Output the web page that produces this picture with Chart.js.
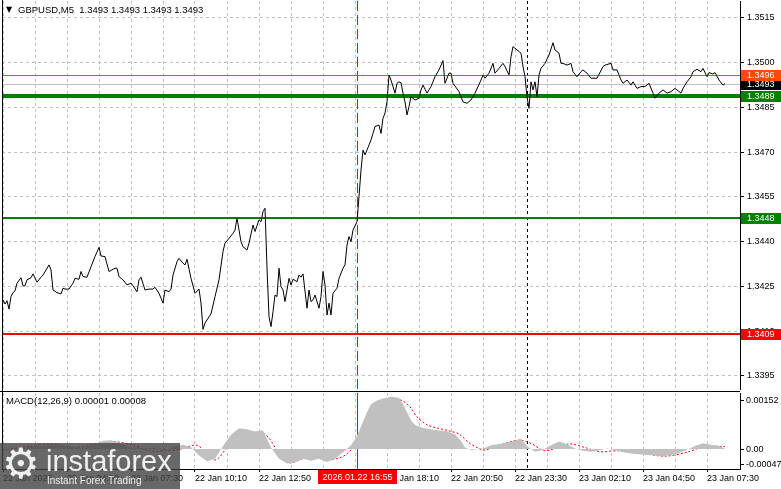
<!DOCTYPE html>
<html>
<head>
<meta charset="utf-8">
<script src="https://cdn.jsdelivr.net/npm/chart.js@4.4.1/dist/chart.umd.min.js"></script>
<style>
  html, body { margin: 0; padding: 0; background: #fff; }
  #wrap { position: relative; width: 781px; height: 489px; overflow: hidden; }
  #priceChart { position: absolute; left: 0; top: 0; }
  #macdChart { position: absolute; left: 0; top: 390px; }
  #logo { position: absolute; left: 0; top: 443px; width: 180px; height: 46px;
          background: rgba(66, 66, 66, 0.8); color: rgba(255, 255, 255, 0.9);
          font-family: 'Liberation Sans', Arial, sans-serif; }
  #logo .gear { position: absolute; left: 2px; top: -3px; font-size: 42px; line-height: 48px; font-family: 'DejaVu Sans', sans-serif; }
  #logo .brand { position: absolute; left: 46px; top: 3px; font-size: 29px; line-height: 30px; }
  #logo .tag { position: absolute; left: 47px; top: 32px; font-size: 10px; line-height: 12px; }
</style>
</head>
<body>
<div id="wrap">
  <canvas id="priceChart" width="781" height="390"></canvas>
  <canvas id="macdChart" width="781" height="99"></canvas>
  <div id="logo"><span class="gear">⚙</span><span class="brand">instaforex</span><span class="tag">Instant Forex Trading</span></div>
</div>
<script>
// GBPUSD M5 closes, bar index counted from 22 Jan 02:10
var bars = [0,1,2,3,4,5,6,7,9,10,
  11,12,14,15,17,19,20,23,24,25,
  27,29,30,31,33,35,36,38,39,40,
  42,44,46,48,49,51,53,56,57,58,
  60,62,64,65,67,68,69,71,73,75,
  76,78,80,81,83,84,85,87,88,90,
  91,92,94,96,98,99,100,101,104,106,
  108,110,111,113,115,116,117,119,120,122,
  123,125,126,128,129,130,131,132,133,134,
  135,136,137,138,139,140,141,143,144,145,
  147,148,149,150,152,153,154,155,156,158,
  159,160,161,162,163,164,165,167,168,170,
  171,172,173,174,175,177,178,179,180,181,
  183,184,185,186,188,189,190,191,192,193,
  194,196,197,198,199,200,201,202,203,204,
  206,208,209,210,212,214,216,218,220,221,
  223,224,225,228,230,232,234,236,239,240,
  241,243,245,246,248,250,251,253,254,255,
  257,259,260,261,262,263,264,265,266,267,
  268,269,271,273,275,276,278,279,280,282,
  284,285,287,289,290,292,294,297,300,301,
  304,305,307,309,310,312,314,315,317,319,
  321,323,325,326,328,330,332,334,336,339,
  340,342,344,345,347,349,350,352,353,355,
  356,358,360,361];

var closes = [1.34205,1.34191,1.34202,1.34174,1.34216,1.34229,1.34235,1.34261,1.34279,1.34252,
  1.34252,1.34272,1.34279,1.34292,1.34264,1.34281,1.34288,1.34322,1.34305,1.34238,
  1.34229,1.34225,1.34244,1.34241,1.34241,1.34261,1.34277,1.34274,1.34300,1.34283,
  1.34281,1.34316,1.34350,1.34381,1.34352,1.34350,1.34300,1.34311,1.34311,1.34283,
  1.34272,1.34255,1.34261,1.34252,1.34232,1.34272,1.34281,1.34238,1.34241,1.34241,
  1.34247,1.34227,1.34194,1.34238,1.34232,1.34241,1.34288,1.34333,1.34344,1.34328,
  1.34322,1.34341,1.34277,1.34227,1.34241,1.34194,1.34106,1.34127,1.34158,1.34216,
  1.34272,1.34367,1.34395,1.34411,1.34428,1.34439,1.34479,1.34400,1.34383,1.34372,
  1.34395,1.34456,1.34434,1.34473,1.34467,1.34501,1.34512,1.34311,1.34149,1.34115,
  1.34165,1.34221,1.34216,1.34311,1.34249,1.34238,1.34199,1.34277,1.34255,1.34274,
  1.34266,1.34288,1.34281,1.34292,1.34177,1.34238,1.34199,1.34205,1.34221,1.34177,
  1.34216,1.34300,1.34255,1.34154,1.34194,1.34154,1.34227,1.34244,1.34277,1.34311,
  1.34322,1.34389,1.34417,1.34400,1.34439,1.34467,1.34551,1.34640,1.34707,1.34691,
  1.34724,1.34741,1.34763,1.34786,1.34791,1.34763,1.34814,1.34831,1.34869,1.34959,
  1.34942,1.34898,1.34931,1.34936,1.34933,1.34898,1.34869,1.34825,1.34853,1.34886,
  1.34875,1.34881,1.34909,1.34925,1.34898,1.34920,1.34953,1.34976,1.35007,1.34931,
  1.34965,1.34965,1.34931,1.34903,1.34869,1.34864,1.34875,1.34898,1.34942,1.34959,
  1.34948,1.34965,1.34998,1.34965,1.34981,1.34998,1.34987,1.34959,1.35020,1.35054,
  1.35043,1.35032,1.34987,1.34953,1.34886,1.34847,1.34936,1.34909,1.34936,1.34886,
  1.34959,1.34981,1.34998,1.35026,1.35067,1.35043,1.35032,1.34998,1.34998,1.34992,
  1.34998,1.34970,1.34953,1.34970,1.34976,1.34965,1.34948,1.34948,1.34987,1.34992,
  1.34998,1.34976,1.34976,1.34942,1.34931,1.34942,1.34925,1.34936,1.34914,1.34920,
  1.34920,1.34931,1.34898,1.34881,1.34898,1.34909,1.34898,1.34903,1.34914,1.34898,
  1.34914,1.34936,1.34953,1.34970,1.34978,1.34970,1.34981,1.34953,1.34967,1.34962,
  1.34967,1.34942,1.34925,1.34930];

// MACD(12,26,9) main line (grey histogram) and signal (red dots)
var macdBars = [0,8,16,24,32,40,46,50,54,58,
  64,70,76,80,86,90,94,98,102,106,
  110,114,118,122,126,130,134,138,142,146,
  150,154,158,162,166,170,174,176,178,180,
  182,184,187,190,194,198,200,202,204,206,
  210,216,222,226,229,231,234,240,244,248,
  252,256,259,262,266,270,274,278,282,286,
  290,294,298,302,306,310,314,318,322,326,
  330,334,338,342,346,350,354,358,361];
var macdMain = [-0.00003,0.00003,0.00008,0.00012,0.00009,0.00004,0.00015,0.00026,0.00028,0.00018,
  0.00006,0.00002,0.00005,-0.00004,0.00008,0.00014,0.00006,-0.00020,-0.00038,-0.00030,
  0.00010,0.00045,0.00065,0.00062,0.00055,0.00058,0.00005,-0.00030,-0.00045,-0.00042,
  -0.00030,-0.00036,-0.00030,-0.00040,-0.00030,-0.00010,0.00012,0.00030,0.00055,0.00085,
  0.00115,0.00140,0.00152,0.00158,0.00163,0.00160,0.00140,0.00115,0.00090,0.00075,
  0.00066,0.00060,0.00056,0.00046,0.00025,0.00005,-0.00003,0.00002,0.00012,0.00016,
  0.00020,0.00026,0.00032,0.00010,-0.00008,-0.00002,0.00012,0.00024,0.00015,0.00002,
  -0.00005,-0.00008,-0.00004,0.00002,-0.00003,-0.00010,-0.00014,-0.00016,-0.00018,-0.00020,
  -0.00022,-0.00018,-0.00012,-0.00002,0.00010,0.00018,0.00014,0.00010,0.00001];
var signalBars = [0,12,24,36,48,56,64,74,88,97,
  106,113,121,131,138,143,153,163,171,178,
  184,190,196,200,204,207,212,217,223,228,
  233,238,241,248,258,264,271,283,291,298,
  308,318,331,343,351,361];
var signalValues = [-0.00003,0.00008,0.00016,0.00005,0.00018,0.00023,0.00014,-0.00006,-0.00001,0.00012,
  -0.00034,0.00012,0.00049,0.00046,-0.00013,-0.00043,-0.00024,-0.00034,-0.00019,0.00028,
  0.00090,0.00141,0.00155,0.00150,0.00128,0.00100,0.00076,0.00066,0.00057,0.00047,
  0.00020,0.00002,-0.00003,0.00012,0.00028,0.00018,-0.00005,0.00016,0.00005,-0.00008,
  -0.00005,-0.00011,-0.00022,-0.00008,0.00009,0.00008];

// axes
var yTicks = [1.3395, 1.3410, 1.3425, 1.3440, 1.3455, 1.3470, 1.3485, 1.3500, 1.3515];
var macdTicks = [-0.00047, 0, 0.00152];
var gridBars = [0,16,32,48,64,80,96,112,128,144,160,176,192,208,224,240,256,272,288,304,320,336,352];
var timeLabels = ['22 Jan 2026','22 Jan 04:50','22 Jan 07:30','22 Jan 10:10','22 Jan 12:50','22 Jan 15:30',
  '22 Jan 18:10','22 Jan 20:50','22 Jan 23:30','23 Jan 02:10','23 Jan 04:50','23 Jan 07:30'];

// horizontal levels (bid, ask, support/resistance)
var levelValues = [1.3493, 1.3496, 1.3489, 1.3448, 1.3409];
var levelLabels = ['1.3493', '1.3496', '1.3489', '1.3448', '1.3409'];
var crossBar = 177, crossLabel = '2026.01.22 16:55';
var dayBar = 262;

// view ranges
var xMin = -0.5, xMax = 368.5;
var yMin = 1.33906, yMax = 1.35207;
var macdMin = -0.00062, macdMax = 0.00175;

var levelStyles = [
  { line: '#c0c0c0', width: 1, box: '#000000' },
  { line: '#ff4a00', width: 1, box: '#ff4a00' },
  { line: '#008000', width: 4, box: '#008000' },
  { line: '#008000', width: 2, box: '#008000' },
  { line: '#ff0000', width: 2, box: '#ff0000' }
];

var FONT = "'Liberation Sans', Arial, sans-serif";
Chart.defaults.font.family = FONT;
Chart.defaults.font.size = 9;
Chart.defaults.color = '#000';

function vLine(ctx, x, top, bottom, color, dash) {
  ctx.save();
  ctx.strokeStyle = color;
  ctx.lineWidth = 1;
  ctx.setLineDash(dash);
  ctx.beginPath();
  ctx.moveTo(Math.round(x) + 0.5, top);
  ctx.lineTo(Math.round(x) + 0.5, bottom);
  ctx.stroke();
  ctx.restore();
}

var priceOverlay = {
  id: 'priceOverlay',
  beforeDatasetsDraw: function(chart) {
    var ctx = chart.ctx, area = chart.chartArea;
    var xs = chart.scales.x, ys = chart.scales.y;
    vLine(ctx, xs.getPixelForValue(crossBar), area.top, area.bottom, '#ff0000', [10, 4]);
    vLine(ctx, xs.getPixelForValue(dayBar), area.top, area.bottom, '#000000', [3, 3]);
    ctx.save();
    levelValues.forEach(function(v, k) {
      var st = levelStyles[k];
      var py = Math.round(ys.getPixelForValue(v)) + (st.width % 2 ? 0.5 : 0);
      ctx.strokeStyle = st.line;
      ctx.lineWidth = st.width;
      ctx.beginPath();
      ctx.moveTo(area.left, py);
      ctx.lineTo(area.right, py);
      ctx.stroke();
    });
    ctx.restore();
  },
  afterDraw: function(chart) {
    var ctx = chart.ctx, area = chart.chartArea, ys = chart.scales.y;
    ctx.save();
    // left frame
    ctx.strokeStyle = '#000';
    ctx.lineWidth = 1;
    ctx.beginPath();
    ctx.moveTo(area.left + 0.5, 0);
    ctx.lineTo(area.left + 0.5, area.bottom + 1);
    ctx.stroke();
    // price tags on the axis
    ctx.font = '9px ' + FONT;
    ctx.textBaseline = 'middle';
    levelValues.forEach(function(v, k) {
      var py = Math.round(ys.getPixelForValue(v));
      ctx.fillStyle = levelStyles[k].box;
      ctx.fillRect(area.right + 1, py - 5, chart.width - area.right - 1, 11);
      ctx.fillStyle = '#fff';
      ctx.fillText(levelLabels[k], area.right + 7, py + 0.5);
    });
    // symbol header
    ctx.fillStyle = '#000';
    ctx.font = "8px 'DejaVu Sans', sans-serif";
    ctx.fillText('\u25BC', 6, 10);
    ctx.font = '9.5px ' + FONT;
    ctx.fillText('GBPUSD,M5  1.3493 1.3493 1.3493 1.3493', 18, 10);
    ctx.restore();
  }
};

var macdOverlay = {
  id: 'macdOverlay',
  beforeDatasetsDraw: function(chart) {
    var ctx = chart.ctx, area = chart.chartArea, xs = chart.scales.x;
    vLine(ctx, xs.getPixelForValue(crossBar), area.top, area.bottom, '#ff0000', []);
    vLine(ctx, xs.getPixelForValue(dayBar), area.top, area.bottom, '#000000', [3, 3]);
  },
  afterDraw: function(chart) {
    var ctx = chart.ctx, area = chart.chartArea, xs = chart.scales.x;
    ctx.save();
    ctx.strokeStyle = '#000';
    ctx.lineWidth = 1;
    ctx.beginPath();
    ctx.moveTo(0, 1.5);
    ctx.lineTo(area.right, 1.5);
    ctx.moveTo(area.left + 0.5, 0);
    ctx.lineTo(area.left + 0.5, area.bottom);
    ctx.stroke();
    ctx.font = '9.5px ' + FONT;
    ctx.textBaseline = 'middle';
    ctx.fillStyle = '#000';
    ctx.fillText('MACD(12,26,9) 0.00001 0.00008', 6, 11);
    // crosshair time tag
    var cx = Math.round(xs.getPixelForValue(crossBar));
    ctx.fillStyle = '#ff0000';
    ctx.fillRect(cx - 39, area.bottom + 1, 79, 14);
    ctx.fillStyle = '#fff';
    ctx.textAlign = 'center';
    ctx.font = '9px ' + FONT;
    ctx.fillText(crossLabel, cx + 0.5, area.bottom + 8.5);
    ctx.restore();
  }
};

new Chart(document.getElementById('priceChart'), {
  type: 'line',
  data: {
    datasets: [{
      data: bars.map(function(b, k) { return { x: b, y: closes[k] }; }),
      borderColor: '#000',
      borderWidth: 1,
      pointRadius: 0,
      tension: 0,
      fill: false
    }]
  },
  options: {
    responsive: false,
    animation: false,
    events: [],
    layout: { padding: { left: 2, top: 1, right: 0, bottom: 1 } },
    plugins: { legend: { display: false }, tooltip: { enabled: false } },
    scales: {
      x: {
        type: 'linear', min: xMin, max: xMax,
        ticks: { display: false },
        grid: { color: '#c0c0c0', drawTicks: false },
        border: { display: false, dash: [3, 3] },
        afterBuildTicks: function(s) { s.ticks = gridBars.map(function(v) { return { value: v }; }); },
        afterFit: function(s) { s.height = 0; s.paddingLeft = 0; s.paddingRight = 0; }
      },
      y: {
        position: 'right', min: yMin, max: yMax,
        ticks: { padding: 3, callback: function(v) { return v.toFixed(4); } },
        grid: { color: '#c0c0c0', tickColor: '#000', tickLength: 4, tickBorderDash: [] },
        border: { color: '#000', dash: [3, 3] },
        afterBuildTicks: function(s) { s.ticks = yTicks.map(function(v) { return { value: v }; }); },
        afterFit: function(s) { s.width = 41; s.paddingTop = 0; s.paddingBottom = 0; }
      }
    }
  },
  plugins: [priceOverlay]
});

new Chart(document.getElementById('macdChart'), {
  type: 'line',
  data: {
    datasets: [{
      data: macdBars.map(function(b, k) { return { x: b, y: macdMain[k] }; }),
      borderColor: 'transparent',
      borderWidth: 0,
      backgroundColor: '#c0c0c0',
      fill: 'origin',
      pointRadius: 0,
      tension: 0
    }, {
      data: signalBars.map(function(b, k) { return { x: b, y: signalValues[k] }; }),
      borderColor: '#ff0000',
      borderWidth: 1,
      borderDash: [2, 2],
      fill: false,
      pointRadius: 0,
      tension: 0.3
    }]
  },
  options: {
    responsive: false,
    animation: false,
    events: [],
    layout: { padding: { left: 2, top: 3, right: 0, bottom: 0 } },
    plugins: { legend: { display: false }, tooltip: { enabled: false } },
    scales: {
      x: {
        type: 'linear', min: xMin, max: xMax,
        ticks: {
          align: 'start', padding: 1, autoSkip: false, maxRotation: 0, minRotation: 0,
          callback: function(v) { return v % 32 === 0 ? timeLabels[v / 32] : ''; }
        },
        grid: {
          color: '#c0c0c0', tickLength: 3, tickBorderDash: [],
          tickColor: function(c) { return c.tick && c.tick.value % 32 === 0 ? '#000' : 'rgba(0,0,0,0)'; }
        },
        border: { color: '#000', dash: [3, 3] },
        afterBuildTicks: function(s) { s.ticks = gridBars.map(function(v) { return { value: v }; }); },
        afterFit: function(s) { s.height = 20; s.paddingLeft = 0; s.paddingRight = 0; }
      },
      y: {
        position: 'right', min: macdMin, max: macdMax,
        ticks: { padding: 2, callback: function(v) { return v === 0 ? '0.00' : v.toFixed(5); } },
        grid: { drawOnChartArea: false, tickColor: '#000', tickLength: 4 },
        border: { color: '#000' },
        afterBuildTicks: function(s) { s.ticks = macdTicks.map(function(v) { return { value: v }; }); },
        afterFit: function(s) { s.width = 41; s.paddingTop = 0; s.paddingBottom = 0; }
      }
    }
  },
  plugins: [macdOverlay]
});
</script>
</body>
</html>
